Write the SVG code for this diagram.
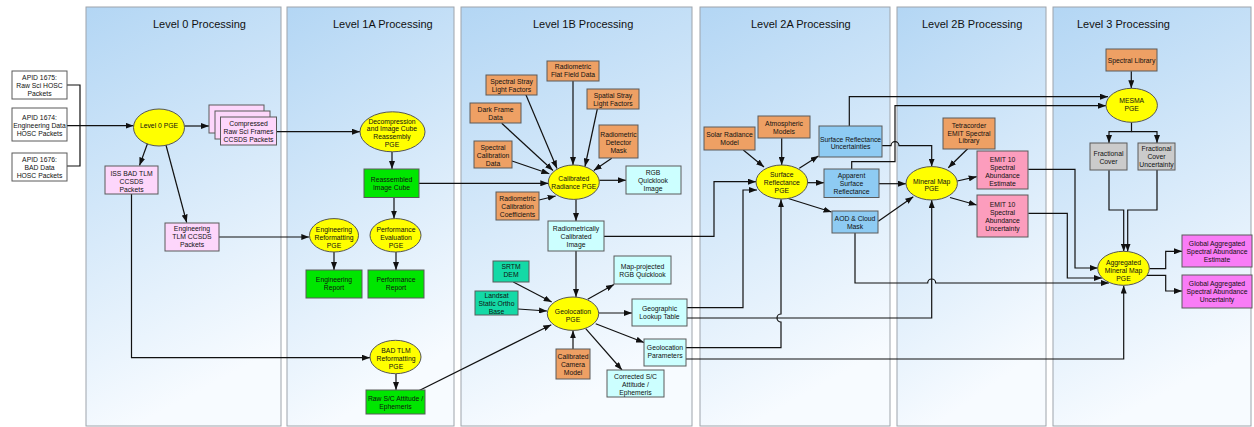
<svg xmlns="http://www.w3.org/2000/svg" width="1254" height="427" viewBox="0 0 1254 427">
<defs>
<linearGradient id="bg" x1="0" y1="0" x2="0.25" y2="1">
<stop offset="0" stop-color="#b3d6f4"/>
<stop offset="1" stop-color="#f7fbff"/>
</linearGradient>
<marker id="a" markerUnits="userSpaceOnUse" markerWidth="8" markerHeight="6" refX="8" refY="3" orient="auto">
<path d="M0,0 L8,3 L0,6 z" fill="#111"/>
</marker>
</defs>
<style>
.lane{fill:url(#bg);stroke:#9ea4ab;stroke-width:1}
.title{font-family:"Liberation Sans",Arial,sans-serif;font-size:11px;fill:#111}
.t{font-family:"Liberation Sans",Arial,sans-serif;font-size:6.8px;fill:#111;text-anchor:middle}
.n{stroke:#5a5a5a;stroke-width:1}
.e{fill:#ffff00;stroke:#555;stroke-width:1}
.white{fill:#ffffff}
.pink{fill:#fdd6fb}
.green{fill:#00e600}
.orange{fill:#eea064}
.cyan{fill:#ccffff}
.teal{fill:#14d9a6}
.blue{fill:#8ecbf3}
.rose{fill:#fc9dbd}
.mag{fill:#f97cf6}
.gray{fill:#cbcbcb}
#connectors path{fill:none;stroke:#111;stroke-width:1.2}
#connectors path.ar{marker-end:url(#a)}
</style>
<rect width="1254" height="427" fill="#ffffff"/>
<g id="lanes">
<rect class="lane" x="86" y="7" width="195" height="419"/>
<rect class="lane" x="287" y="7" width="167" height="419"/>
<rect class="lane" x="461" y="7" width="231" height="419"/>
<rect class="lane" x="700" y="7" width="190" height="419"/>
<rect class="lane" x="897" y="7" width="149" height="419"/>
<rect class="lane" x="1053" y="7" width="198" height="419"/>
<text class="title" x="153" y="28">Level 0 Processing</text>
<text class="title" x="333" y="28">Level 1A Processing</text>
<text class="title" x="533" y="28">Level 1B Processing</text>
<text class="title" x="751" y="28">Level 2A Processing</text>
<text class="title" x="922" y="28">Level 2B Processing</text>
<text class="title" x="1077" y="28">Level 3 Processing</text>
</g>
<g id="connectors">
<path d="M67,85 H80 V166 H67"/>
<path class="ar" d="M67,125.7 H133.5"/>
<path class="ar" d="M184.5,126 H209"/>
<path class="ar" d="M147.7,143 L139.5,165.5"/>
<path class="ar" d="M165.7,144 L186.7,222.5"/>
<path class="ar" d="M131.5,194 V357.7 H370"/>
<path class="ar" d="M219,237 H309.3"/>
<path class="ar" d="M276.3,131.7 H360"/>
<path class="ar" d="M392,151.8 V169"/>
<path class="ar" d="M394,197.7 V218.6"/>
<path class="ar" d="M334,252 V270"/>
<path class="ar" d="M396,252 V270"/>
<path class="ar" d="M396,373.7 V390"/>
<path class="ar" d="M418.3,391 L551.3,324.7"/>
<path class="ar" d="M419,183.3 H548.3"/>
<path class="ar" d="M525.7,94.3 L557,168.5"/>
<path class="ar" d="M573,81 V165"/>
<path class="ar" d="M597.3,109 L585,166.5"/>
<path class="ar" d="M611.7,158.3 L593.7,170.5"/>
<path class="ar" d="M501.7,123.3 L553,170.5"/>
<path class="ar" d="M512,161 L549.3,173.7"/>
<path class="ar" d="M539,200 L555.7,196"/>
<path class="ar" d="M599.3,180.3 H626"/>
<path class="ar" d="M576,199.3 V221"/>
<path class="ar" d="M576,251 V297"/>
<path class="ar" d="M513.3,282 L551.7,302"/>
<path class="ar" d="M518,309 L547,311"/>
<path class="ar" d="M573,349 V330.4"/>
<path class="ar" d="M587.7,299.3 L614,284.5"/>
<path class="ar" d="M598.7,313 H632"/>
<path class="ar" d="M595.7,323.7 L644,342.5"/>
<path class="ar" d="M585.7,328.7 L622,370"/>
<path class="ar" d="M604,236.3 H714 V181.7 H756"/>
<path class="ar" d="M687,307.7 H743 V190 H757"/>
<path class="ar" d="M686,347.7 H781 V322 A4,4 0 0 1 781,314 V199.3"/>
<path class="ar" d="M687,318 H931.7 V200"/>
<path class="ar" d="M686,359 H1123.7 V285.5"/>
<path class="ar" d="M743.3,150 L764,167"/>
<path class="ar" d="M781.7,138.3 V165"/>
<path class="ar" d="M799.3,168.3 L818.5,156"/>
<path class="ar" d="M807.7,182.7 H824"/>
<path class="ar" d="M788.3,198.5 L831.5,212"/>
<path class="ar" d="M849.3,126 V96.7 H1108"/>
<path class="ar" d="M851.7,169 V161.7 H895 V105.7 H1106"/>
<path class="ar" d="M882,145.7 H891 A4,4 0 0 1 899,145.7 H931.7 V166.6"/>
<path class="ar" d="M879,183.7 H906"/>
<path class="ar" d="M967.7,148.7 L948.3,167.7"/>
<path class="ar" d="M878.3,221.3 L913.3,196.7"/>
<path class="ar" d="M957.3,181 L976.7,176.7"/>
<path class="ar" d="M950,197.5 L976.7,205"/>
<path class="ar" d="M855,233 V283 H927.7 A4,4 0 0 1 935.7,283 H1109"/>
<path class="ar" d="M1028.3,169.3 H1075 V268 H1097.7"/>
<path class="ar" d="M1028.3,213.3 H1067.3 V278 H1102"/>
<path class="ar" d="M1131.3,71.3 V88.3"/>
<path class="ar" d="M1131.5,122.3 V131.7 H1109 V143"/>
<path class="ar" d="M1131.5,131.7 H1157 V143"/>
<path class="ar" d="M1109,170.3 V210 H1123.7 V251.5"/>
<path class="ar" d="M1157,169.7 V210 H1127.7 V251.5"/>
<path class="ar" d="M1149.3,268.7 H1165.7 V251.3 H1182"/>
<path class="ar" d="M1147,275.3 H1165.7 V291 H1182"/>
</g>
<g id="apid1675"><rect class="n white" x="12" y="71" width="55" height="28"/><text class="t"><tspan x="39.5" y="80.2">APID 1675:</tspan><tspan x="39.5" y="88.2">Raw Sci HOSC</tspan><tspan x="39.5" y="96.2">Packets</tspan></text></g>
<g id="apid1674"><rect class="n white" x="12" y="108" width="55" height="33"/><text class="t"><tspan x="39.5" y="120">APID 1674:</tspan><tspan x="39.5" y="128">Engineering Data</tspan><tspan x="39.5" y="136">HOSC Packets</tspan></text></g>
<g id="apid1676"><rect class="n white" x="12" y="153" width="55" height="28"/><text class="t"><tspan x="39.5" y="161.5">APID 1676:</tspan><tspan x="39.5" y="169.5">BAD Data</tspan><tspan x="39.5" y="177.5">HOSC Packets</tspan></text></g>
<g id="level0pge"><ellipse class="e" cx="159" cy="127.5" rx="25.5" ry="18.5"/><text class="t"><tspan x="159" y="127.5">Level 0 PGE</tspan></text></g>
<g id="issbadtlm"><rect class="n pink" x="105" y="166" width="53" height="28"/><text class="t"><tspan x="131.5" y="176">ISS BAD TLM</tspan><tspan x="131.5" y="184">CCSDS</tspan><tspan x="131.5" y="192">Packets</tspan></text></g>
<g id="engtlm"><rect class="n pink" x="165" y="223" width="54" height="28"/><text class="t"><tspan x="192" y="231.2">Engineering</tspan><tspan x="192" y="239.2">TLM CCSDS</tspan><tspan x="192" y="247">Packets</tspan></text></g>
<g id="compressed"><rect class="n pink" x="209" y="105" width="55" height="28"/><rect class="n pink" x="215" y="111" width="55" height="28"/><rect class="n pink" x="220.5" y="117" width="56" height="28"/><text class="t"><tspan x="248.5" y="126.2">Compressed</tspan><tspan x="248.5" y="133.8">Raw Sci Frames</tspan><tspan x="248.5" y="141.5">CCSDS Packets</tspan></text></g>
<g id="decompression"><ellipse class="e" cx="392.5" cy="131.8" rx="32.5" ry="20"/><text class="t"><tspan x="392" y="123.5">Decompression</tspan><tspan x="392" y="131.3">and Image Cube</tspan><tspan x="392" y="139.2">Reassembly</tspan><tspan x="392" y="147.2">PGE</tspan></text></g>
<g id="reassembled"><rect class="n green" x="364" y="169" width="55" height="28.5"/><text class="t"><tspan x="391.5" y="181.8">Reassembled</tspan><tspan x="391.5" y="189.8">Image Cube</tspan></text></g>
<g id="engreformat"><ellipse class="e" cx="334" cy="235.3" rx="24.5" ry="16.7"/><text class="t"><tspan x="334" y="231.8">Engineering</tspan><tspan x="334" y="239.8">Reformatting</tspan><tspan x="334" y="247.5">PGE</tspan></text></g>
<g id="perfeval"><ellipse class="e" cx="395.5" cy="235.3" rx="25.5" ry="16.7"/><text class="t"><tspan x="396" y="231.8">Performance</tspan><tspan x="396" y="239.8">Evaluation</tspan><tspan x="396" y="247.5">PGE</tspan></text></g>
<g id="engreport"><rect class="n green" x="306" y="270" width="56" height="28"/><text class="t"><tspan x="334" y="282.2">Engineering</tspan><tspan x="334" y="290.2">Report</tspan></text></g>
<g id="perfreport"><rect class="n green" x="368" y="270" width="56" height="28"/><text class="t"><tspan x="396" y="282.2">Performance</tspan><tspan x="396" y="290.2">Report</tspan></text></g>
<g id="badtlmpge"><ellipse class="e" cx="395.5" cy="357" rx="25.5" ry="16.7"/><text class="t"><tspan x="396" y="352.8">BAD TLM</tspan><tspan x="396" y="360.8">Reformatting</tspan><tspan x="396" y="368.5">PGE</tspan></text></g>
<g id="rawsc"><rect class="n green" x="366" y="390" width="59" height="24"/><text class="t"><tspan x="395.5" y="401.2">Raw S/C Attitude /</tspan><tspan x="395.5" y="408.8">Ephemeris</tspan></text></g>
<g id="spectralstray"><rect class="n orange" x="486" y="75" width="51" height="20"/><text class="t"><tspan x="511.5" y="83.5">Spectral Stray</tspan><tspan x="511.5" y="91.5">Light Factors</tspan></text></g>
<g id="flatfield"><rect class="n orange" x="547" y="61" width="52" height="20"/><text class="t"><tspan x="573" y="69.2">Radiometric</tspan><tspan x="573" y="77.2">Flat Field Data</tspan></text></g>
<g id="spatialstray"><rect class="n orange" x="587" y="89" width="52" height="20"/><text class="t"><tspan x="613" y="97.5">Spatial Stray</tspan><tspan x="613" y="105.5">Light Factors</tspan></text></g>
<g id="darkframe"><rect class="n orange" x="470" y="103" width="51" height="20"/><text class="t"><tspan x="495.5" y="111.5">Dark Frame</tspan><tspan x="495.5" y="119.5">Data</tspan></text></g>
<g id="detectormask"><rect class="n orange" x="599" y="125" width="39" height="33"/><text class="t"><tspan x="618.5" y="136.8">Radiometric</tspan><tspan x="618.5" y="144.8">Detector</tspan><tspan x="618.5" y="152.5">Mask</tspan></text></g>
<g id="spectralcal"><rect class="n orange" x="474" y="141" width="38" height="27"/><text class="t"><tspan x="493" y="149.8">Spectral</tspan><tspan x="493" y="157.8">Calibration</tspan><tspan x="493" y="165.8">Data</tspan></text></g>
<g id="calradiance"><ellipse class="e" cx="573.8" cy="182.2" rx="25.5" ry="17.2"/><text class="t"><tspan x="573.8" y="180.8">Calibrated</tspan><tspan x="573.8" y="188.5">Radiance PGE</tspan></text></g>
<g id="radcalcoef"><rect class="n orange" x="496" y="192" width="43" height="28"/><text class="t"><tspan x="517.5" y="200.5">Radiometric</tspan><tspan x="517.5" y="208.5">Calibration</tspan><tspan x="517.5" y="216.5">Coefficients</tspan></text></g>
<g id="rgbql"><rect class="n cyan" x="626" y="166" width="55" height="28"/><text class="t"><tspan x="653" y="174.5">RGB</tspan><tspan x="653" y="182.5">Quicklook</tspan><tspan x="653" y="190.5">Image</tspan></text></g>
<g id="rci"><rect class="n cyan" x="548" y="221" width="56" height="30"/><text class="t"><tspan x="576" y="230.5">Radiometrically</tspan><tspan x="576" y="238.5">Calibrated</tspan><tspan x="576" y="246.5">Image</tspan></text></g>
<g id="srtm"><rect class="n teal" x="493" y="261" width="36" height="21"/><text class="t"><tspan x="511" y="268.5">SRTM</tspan><tspan x="511" y="276.8">DEM</tspan></text></g>
<g id="landsat"><rect class="n teal" x="475" y="291" width="43" height="24"/><text class="t"><tspan x="496.5" y="297.8">Landsat</tspan><tspan x="496.5" y="305.8">Static Ortho</tspan><tspan x="496.5" y="313.8">Base</tspan></text></g>
<g id="geolocation"><ellipse class="e" cx="573" cy="313.7" rx="25.7" ry="16.7"/><text class="t"><tspan x="573" y="313.5">Geolocation</tspan><tspan x="573" y="321.5">PGE</tspan></text></g>
<g id="camera"><rect class="n orange" x="556" y="349" width="34" height="30"/><text class="t"><tspan x="573" y="359.2">Calibrated</tspan><tspan x="573" y="367.2">Camera</tspan><tspan x="573" y="374.8">Model</tspan></text></g>
<g id="mapproj"><rect class="n cyan" x="614" y="256" width="57" height="28"/><text class="t"><tspan x="642.5" y="268.8">Map-projected</tspan><tspan x="642.5" y="276.5">RGB Quicklook</tspan></text></g>
<g id="geolut"><rect class="n cyan" x="632" y="299" width="55" height="27"/><text class="t"><tspan x="659.5" y="311.2">Geographic</tspan><tspan x="659.5" y="318.8">Lookup Table</tspan></text></g>
<g id="geoparams"><rect class="n cyan" x="644" y="339" width="42" height="27"/><text class="t"><tspan x="665" y="350.2">Geolocation</tspan><tspan x="665" y="358.2">Parameters</tspan></text></g>
<g id="correctedsc"><rect class="n cyan" x="607" y="370" width="57" height="27"/><text class="t"><tspan x="635.5" y="379.2">Corrected S/C</tspan><tspan x="635.5" y="387.2">Attitude /</tspan><tspan x="635.5" y="394.8">Ephemeris</tspan></text></g>
<g id="solarrad"><rect class="n orange" x="704" y="127" width="51" height="23"/><text class="t"><tspan x="729.5" y="137.2">Solar Radiance</tspan><tspan x="729.5" y="145.2">Model</tspan></text></g>
<g id="atmos"><rect class="n orange" x="758" y="116" width="52" height="22"/><text class="t"><tspan x="784" y="125.8">Atmospheric</tspan><tspan x="784" y="133.8">Models</tspan></text></g>
<g id="srpge"><ellipse class="e" cx="781.8" cy="182" rx="25.8" ry="17"/><text class="t"><tspan x="781.8" y="176.8">Surface</tspan><tspan x="781.8" y="184.8">Reflectance</tspan><tspan x="781.8" y="192.5">PGE</tspan></text></g>
<g id="sru"><rect class="n blue" x="819" y="126" width="63" height="31"/><text class="t"><tspan x="850.5" y="141.5">Surface Reflectance</tspan><tspan x="850.5" y="149.2">Uncertainties</tspan></text></g>
<g id="apparent"><rect class="n blue" x="824" y="169" width="55" height="28.5"/><text class="t"><tspan x="851.5" y="178.2">Apparent</tspan><tspan x="851.5" y="185.8">Surface</tspan><tspan x="851.5" y="193.8">Reflectance</tspan></text></g>
<g id="aod"><rect class="n blue" x="832" y="211" width="46" height="22"/><text class="t"><tspan x="855" y="220.5">AOD &amp; Cloud</tspan><tspan x="855" y="228.5">Mask</tspan></text></g>
<g id="mineral"><ellipse class="e" cx="931.7" cy="183.3" rx="25.7" ry="16.7"/><text class="t"><tspan x="931.7" y="183.5">Mineral Map</tspan><tspan x="931.7" y="191.2">PGE</tspan></text></g>
<g id="tetra"><rect class="n orange" x="943" y="118" width="52" height="31"/><text class="t"><tspan x="969" y="127.5">Tetracorder</tspan><tspan x="969" y="135.5">EMIT Spectral</tspan><tspan x="969" y="143.2">Library</tspan></text></g>
<g id="emitest"><rect class="n rose" x="977" y="151" width="51" height="38"/><text class="t"><tspan x="1002.5" y="161.5">EMIT 10</tspan><tspan x="1002.5" y="169.5">Spectral</tspan><tspan x="1002.5" y="177.5">Abundance</tspan><tspan x="1002.5" y="185.5">Estimate</tspan></text></g>
<g id="emitunc"><rect class="n rose" x="977" y="195" width="51" height="42"/><text class="t"><tspan x="1002.5" y="206.5">EMIT 10</tspan><tspan x="1002.5" y="214.5">Spectral</tspan><tspan x="1002.5" y="222.5">Abundance</tspan><tspan x="1002.5" y="230.5">Uncertainty</tspan></text></g>
<g id="speclib"><rect class="n orange" x="1106" y="49" width="51" height="22"/><text class="t"><tspan x="1131.5" y="63.2">Spectral Library</tspan></text></g>
<g id="mesma"><ellipse class="e" cx="1131.7" cy="105.3" rx="25.7" ry="17"/><text class="t"><tspan x="1131.7" y="103.2">MESMA</tspan><tspan x="1131.7" y="111.2">PGE</tspan></text></g>
<g id="fraccover"><rect class="n gray" x="1090" y="143" width="37" height="27"/><text class="t"><tspan x="1108.5" y="156.2">Fractional</tspan><tspan x="1108.5" y="164.2">Cover</tspan></text></g>
<g id="fracunc"><rect class="n gray" x="1138" y="143" width="37" height="27"/><text class="t"><tspan x="1156.5" y="150.5">Fractional</tspan><tspan x="1156.5" y="158.5">Cover</tspan><tspan x="1156.5" y="166.5">Uncertainty</tspan></text></g>
<g id="aggregated"><ellipse class="e" cx="1123.5" cy="268.3" rx="25.8" ry="17"/><text class="t"><tspan x="1123.5" y="265.2">Aggregated</tspan><tspan x="1123.5" y="272.8">Mineral Map</tspan><tspan x="1123.5" y="280.5">PGE</tspan></text></g>
<g id="globalest"><rect class="n mag" x="1182" y="235" width="70" height="32"/><text class="t"><tspan x="1217" y="246.2">Global Aggregated</tspan><tspan x="1217" y="254.2">Spectral Abundance</tspan><tspan x="1217" y="262.2">Estimate</tspan></text></g>
<g id="globalunc"><rect class="n mag" x="1182" y="275" width="70" height="33"/><text class="t"><tspan x="1217" y="285.5">Global Aggregated</tspan><tspan x="1217" y="293.5">Spectral Abundance</tspan><tspan x="1217" y="301.5">Uncertainty</tspan></text></g>
</svg>
